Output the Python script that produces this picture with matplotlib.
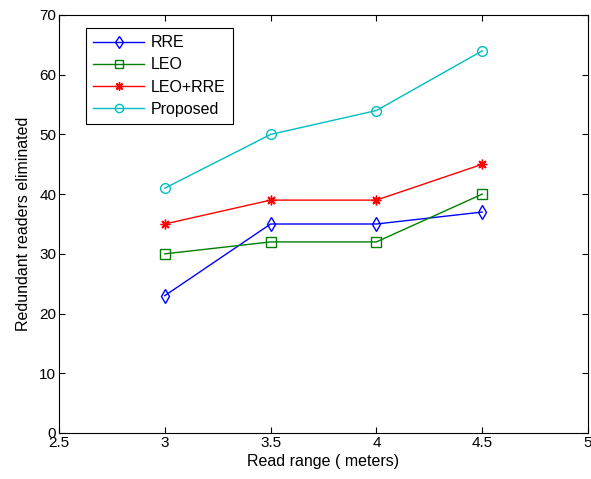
import matplotlib
matplotlib.use("Agg")
import matplotlib.pyplot as plt

plt.rcParams['font.family'] = ['Liberation Sans', 'DejaVu Sans']

x = [3, 3.5, 4, 4.5]
rre = [23, 35, 35, 37]
leo = [30, 32, 32, 40]
leo_rre = [35, 39, 39, 45]
proposed = [41, 50, 54, 64]
xticks = [2.5, 3, 3.5, 4, 4.5, 5]
yticks = [0, 10, 20, 30, 40, 50, 60, 70]

fig = plt.figure(figsize=(5.91, 4.79), dpi=100)
ax = fig.add_axes([59/591, 46/479, 529/591, 418/479])

ax.plot(x, rre, color='#0000ff', marker='d', mfc='none', ms=7, lw=1, label='RRE')
ax.plot(x, leo, color='#008000', marker='s', mfc='none', ms=7, lw=1, label='LEO')
ax.plot(x, leo_rre, color='#ff0000', marker=(8, 2, 0), ms=7, mew=1, lw=1, label='LEO+RRE')
ax.plot(x, proposed, color='#00bfbf', marker='o', mfc='none', ms=7, lw=1, label='Proposed')

ax.set_xlim(2.5, 5)
ax.set_ylim(0, 70)
ax.set_xticks(xticks)
ax.set_xticklabels([f'{v:g}' for v in xticks])
ax.set_yticks(yticks)
ax.tick_params(direction='in', top=True, right=True, labelsize=11, length=4, pad=2)
for s in ax.spines.values():
    s.set_linewidth(0.8)
ax.set_xlabel('Read range ( meters)', fontsize=11.5, labelpad=3)
ax.set_ylabel('Redundant readers eliminated', fontsize=11.5, labelpad=6)

leg = ax.legend(loc='upper left', bbox_to_anchor=(0.051, 0.969), borderaxespad=0,
                fontsize=11.5, fancybox=False, edgecolor='black', framealpha=1,
                handlelength=3.2, handletextpad=0.4, borderpad=0.45, labelspacing=0.45,
                markerscale=0.85)
leg.get_frame().set_linewidth(0.8)

fig.savefig('out.png', dpi=100)
